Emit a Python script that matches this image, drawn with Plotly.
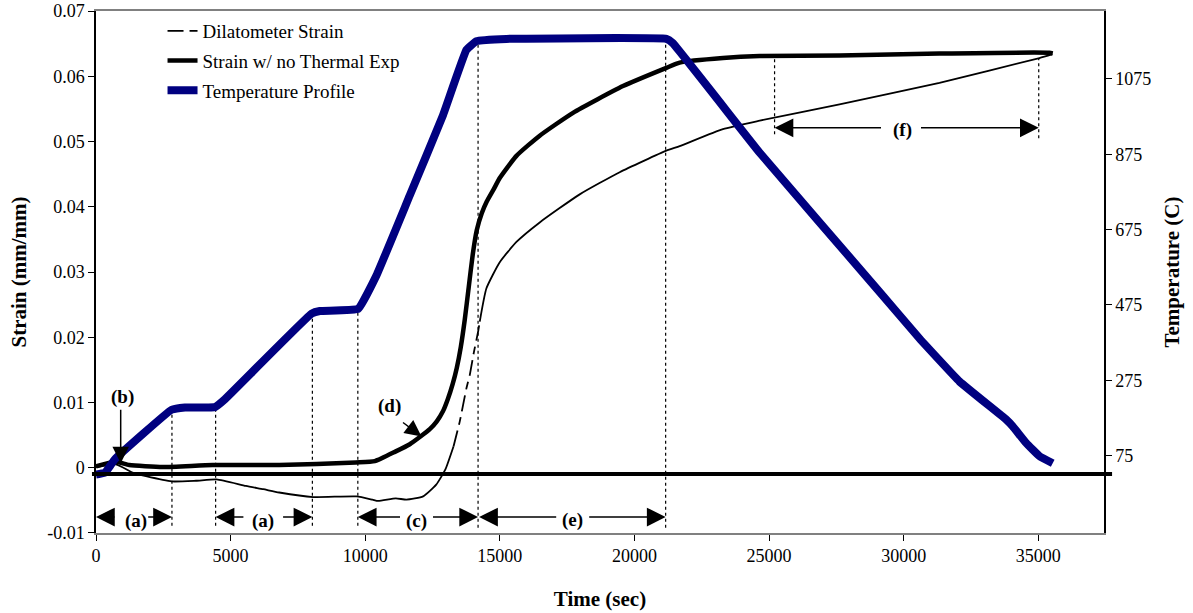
import plotly.graph_objects as go

# ---------------- data ----------------
time_dil = [0, 742, 1385, 1856, 2810, 3712, 4480, 5568, 6210, 6804, 8066, 9677,
            10271, 10479, 11136, 11533, 12150, 12636, 12973, 13281, 13512, 13760,
            13882, 14040, 14190, 14254, 14502, 14996, 15616, 16481, 17966, 19451,
            21185, 21680, 23286, 24652, 27617, 31329, 35041, 35524]
strain_dil = [0.0001, 0.0005, -0.0008, -0.0013, -0.0021, -0.0020, -0.0018, -0.0028,
              -0.0033, -0.0038, -0.0045, -0.0044, -0.0049, -0.0051, -0.0047, -0.0049,
              -0.0044, -0.0026, -0.0003, 0.0033, 0.0071, 0.0122, 0.0142, 0.0178,
              0.0208, 0.0224, 0.0275, 0.0315, 0.0346, 0.0376, 0.0419, 0.0453,
              0.0486, 0.0493, 0.0519, 0.0532, 0.0557, 0.0590, 0.0628, 0.0634]

time_ntx = [0, 742, 1236, 2476, 4332, 6804, 9651, 10356, 11136, 11656, 12027, 12398,
            12658, 12881, 13066, 13252, 13400, 13549, 13697, 13845, 13994, 14142,
            14328, 14514, 14774, 14996, 15616, 16481, 17718, 19574, 21185, 21680,
            23286, 24652, 27617, 31329, 35411, 35535]
strain_ntx = [0.0002, 0.0009, 0.0004, 0.0001, 0.0004, 0.0004, 0.0008, 0.0010, 0.0025,
              0.0036, 0.0047, 0.0059, 0.0071, 0.0086, 0.0105, 0.0129, 0.0153, 0.0185,
              0.0227, 0.0277, 0.0327, 0.0364, 0.0390, 0.0408, 0.0427, 0.0444, 0.0478,
              0.0509, 0.0544, 0.0585, 0.0613, 0.0621, 0.0628, 0.0631, 0.0632, 0.0635,
              0.0636, 0.0635]

time_temp = [0, 334, 705, 2810, 3304, 4417, 4788, 8007, 8315, 9737, 10420, 11656,
             12881, 13761, 14132, 15245, 21185, 21420, 24652, 29102, 30587, 32072,
             33805, 34051, 34546, 35041, 35535]
temp_c = [25, 30, 66, 197, 203, 204, 225, 452, 459, 465, 554, 766, 977, 1152, 1175,
          1181, 1181, 1170, 879, 510, 386, 272, 171, 153, 109, 74, 55]

x_ticks = [0, 5000, 10000, 15000, 20000, 25000, 30000, 35000]
x_tick_text = ["0", "5000", "10000", "15000", "20000", "25000", "30000", "35000"]
y_ticks = [-0.01, 0, 0.01, 0.02, 0.03, 0.04, 0.05, 0.06, 0.07]
y_tick_text = ["-0.01", "0", "0.01", "0.02", "0.03", "0.04", "0.05", "0.06", "0.07"]
t_ticks = [75, 275, 475, 675, 875, 1075]

# stage boundaries (sec) and reference line
stage_times = [2821, 4443, 8037, 9725, 14191, 21158, 25204, 35016]
baseline_strain = -0.00095

# dashed part of the dilatometer curve (where Excel's dash pattern shows)
DASH_T0, DASH_T1 = 13281, 14254

FONT = "Liberation Serif, Times New Roman, serif"

def part(t, s, lo, hi):
    xs, ys = [], []
    for a, b in zip(t, s):
        if lo <= a <= hi:
            xs.append(a)
            ys.append(b)
    return xs, ys

fig = go.Figure()

x1, y1 = part(time_dil, strain_dil, -1, DASH_T0)
x2, y2 = part(time_dil, strain_dil, DASH_T0, DASH_T1)
x3, y3 = part(time_dil, strain_dil, DASH_T1, 1e9)

thin = dict(color="black", width=1.8, shape="spline", smoothing=0.5)
fig.add_trace(go.Scatter(x=x2, y=y2, mode="lines", name="Dilatometer Strain",
                         legendgroup="dil",
                         line=dict(thin, dash="16px,6px,8px,6px")))
fig.add_trace(go.Scatter(x=x1, y=y1, mode="lines", name="Dilatometer Strain",
                         legendgroup="dil", showlegend=False, line=thin))
fig.add_trace(go.Scatter(x=x3, y=y3, mode="lines", name="Dilatometer Strain",
                         legendgroup="dil", showlegend=False, line=thin))
fig.add_trace(go.Scatter(x=time_ntx, y=strain_ntx, mode="lines",
                         name="Strain w/ no Thermal Exp", legendgroup="ntx",
                         line=dict(color="black", width=4.5, shape="spline", smoothing=0.5)))
fig.add_trace(go.Scatter(x=time_temp, y=temp_c, mode="lines", name="Temperature Profile",
                         legendgroup="temp", yaxis="y2",
                         line=dict(color="#000080", width=8, shape="spline", smoothing=0.3)))

# ---------------- reference shapes ----------------
shapes = []
dot_tops = [0.0089, 0.0094, 0.0237, 0.0242, 0.0654, 0.0654, 0.0628, 0.0628]
dot_bots = [-0.0089, -0.0089, -0.0089, -0.0089, -0.0092, -0.0092, 0.0511, 0.0505]
for t, top, bot in zip(stage_times, dot_tops, dot_bots):
    shapes.append(dict(type="line", xref="x", yref="y", x0=t, x1=t, y0=bot, y1=top,
                       line=dict(color="black", width=1.2, dash="dot"), layer="below"))
shapes.append(dict(type="line", xref="paper", yref="y", x0=-0.004, x1=1.008,
                   y0=baseline_strain, y1=baseline_strain,
                   line=dict(color="black", width=4), layer="above"))

# ---------------- annotations ----------------
ann = []
lab_font = dict(family=FONT, size=19, color="black")

def seg_label(text, tip_l, tail_l, xc, tail_r, tip_r, y_arrow, y_text):
    ann.append(dict(x=xc, y=y_text, xref="x", yref="y", text="<b>%s</b>" % text,
                    showarrow=False, font=lab_font))
    for tip, tail in ((tip_l, tail_l), (tip_r, tail_r)):
        ann.append(dict(x=tip, y=y_arrow, ax=tail, ay=y_arrow, xref="x", yref="y",
                        axref="x", ayref="y", text="", showarrow=True,
                        arrowhead=2, arrowsize=2.5, arrowwidth=1.5, arrowcolor="black",
                        standoff=0, startstandoff=0))

seg_label("(a)", 0, 742, 1474, 1882, stage_times[0], -0.00756, -0.0081)
seg_label("(a)", stage_times[1], 5531, 6199, 6893, stage_times[2], -0.00756, -0.0081)
seg_label("(c)", stage_times[3], 11348, 11890, 12461, stage_times[4], -0.00756, -0.0081)
seg_label("(e)", stage_times[4] + 40, 17149, 17695, 18263, stage_times[5], -0.00756, -0.0080)
seg_label("(f)", stage_times[6], 29213, 29956, 30587, stage_times[7], 0.0521, 0.0517)

for text, tx, ty, tail_x, tail_y, tip_x, tip_y in (
        ("(b)", 976, 0.0109, 917, 0.0091, 917, 0.0007),
        ("(d)", 10913, 0.0094, 11348, 0.0071, 12090, 0.0048)):
    ann.append(dict(x=tx, y=ty, xref="x", yref="y", text="<b>%s</b>" % text,
                    showarrow=False, font=lab_font))
    ann.append(dict(x=tip_x, y=tip_y, ax=tail_x, ay=tail_y, xref="x", yref="y",
                    axref="x", ayref="y", text="", showarrow=True,
                    arrowhead=2, arrowsize=2.2, arrowwidth=1.5, arrowcolor="black",
                    standoff=0, startstandoff=0))

tick_font = dict(family=FONT, size=18, color="black")
title_font = dict(family=FONT, size=21, color="black")

fig.update_layout(
    width=1193, height=613,
    margin=dict(l=96, r=89, t=11, b=80),
    paper_bgcolor="white", plot_bgcolor="white",
    showlegend=True,
    legend=dict(x=0.066, y=0.998, xanchor="left", yanchor="top",
                font=dict(family=FONT, size=19, color="black"),
                bgcolor="rgba(0,0,0,0)", borderwidth=0,
                traceorder="grouped", tracegroupgap=2),
    xaxis=dict(range=[0, 37440], tickvals=x_ticks, ticktext=x_tick_text,
               ticks="outside", ticklen=6, automargin=False, ticklabeloverflow="allow",
               tickcolor="black", showgrid=False, zeroline=False,
               showline=True, linecolor="#808080", linewidth=1.5, mirror=True,
               tickfont=tick_font,
               title=dict(text="<b>Time (sec)</b>", font=title_font, standoff=26)),
    yaxis=dict(range=[-0.01001, 0.07001], tickvals=y_ticks, ticktext=y_tick_text,
               ticks="outside", ticklen=6, tickcolor="black", showgrid=False,
               automargin=False, ticklabeloverflow="allow",
               zeroline=False, showline=True, linecolor="black", linewidth=1.5,
               tickfont=tick_font,
               title=dict(text="<b>Strain (mm/mm)</b>", font=title_font, standoff=15)),
    yaxis2=dict(range=[-130, 1255], tickvals=t_ticks, overlaying="y", side="right",
                ticks="outside", ticklen=6, tickcolor="black", showgrid=False,
                automargin=False, ticklabeloverflow="allow",
                zeroline=False, showline=True, linecolor="black", linewidth=1.5,
                tickfont=tick_font,
                title=dict(text="<b>Temperature (C)</b>", font=title_font, standoff=14)),
    shapes=shapes,
    annotations=ann,
)

fig.write_html("out.html")
